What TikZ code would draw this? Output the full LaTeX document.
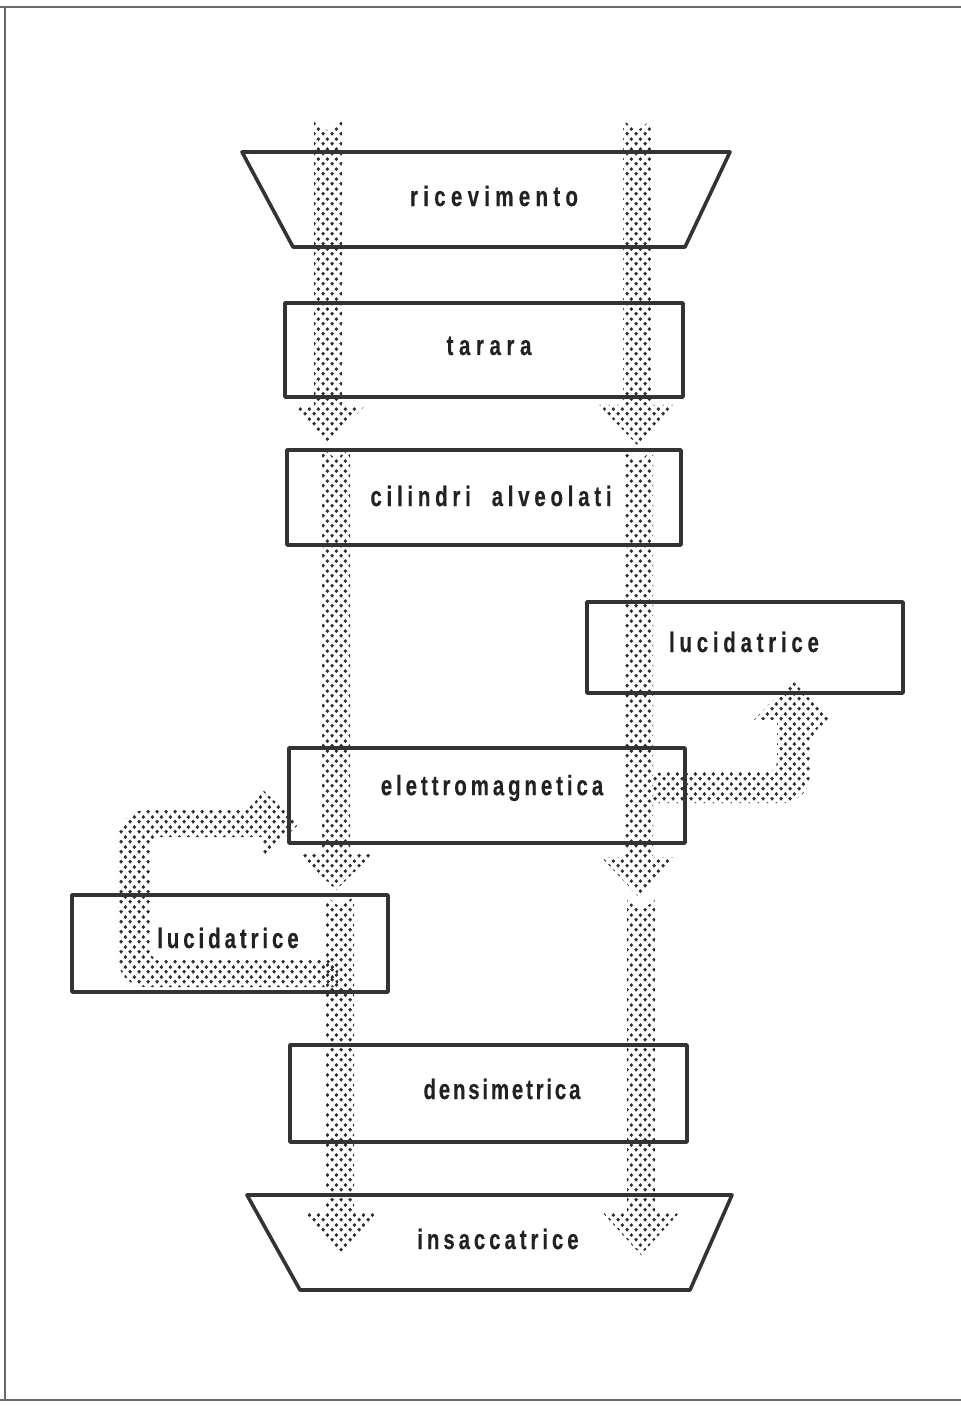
\documentclass[tikz,border=0pt]{standalone}
\usepackage{fontspec}
\newfontfamily\lblfont{Liberation Sans}[FakeStretch=0.73,FakeBold=0.3]
\usetikzlibrary{patterns}
\definecolor{boxgray}{HTML}{333333}
\definecolor{dotgray}{HTML}{2E2E2E}
\definecolor{textgray}{HTML}{222222}
\definecolor{framegray}{HTML}{6A6A6A}
\pgfdeclarepatternformonly{halftone}{\pgfqpoint{0pt}{0pt}}{\pgfqpoint{4.6pt}{4.8pt}}{\pgfqpoint{4.6pt}{4.8pt}}{%
  \pgfpathcircle{\pgfqpoint{1.15pt}{1.2pt}}{1.02pt}%
  \pgfpathcircle{\pgfqpoint{3.45pt}{3.6pt}}{1.02pt}%
  \pgfusepath{fill}%
}
\newcommand\spaced[2]{{\addfontfeature{LetterSpace=#1}#2}}
\tikzset{
  stagebox/.style={draw=boxgray, line width=1.8pt, line join=round, inner sep=0pt},
  lbl/.style={font=\lblfont\bfseries\fontsize{14}{16}\selectfont, text=textgray, inner sep=0pt},
  band/.style={pattern=halftone, pattern color=dotgray},
  framerule/.style={draw=framegray, line width=1pt}
}
% vertical band segment: center x, top y, head base y, apex y, head half width
\newcommand\vband[5]{%
  \fill[band] ({#1-14},#2) -- (#1,{#2+11}) -- ({#1+14},#2) -- ({#1+14},#3) -- ({#1+#5},#3)
    -- (#1,#4) -- ({#1-#5},#3) -- ({#1-14},#3) -- cycle;}
\begin{document}
\begin{tikzpicture}[x=0.5pt,y=-0.5pt]
\fill[white] (0,0) rectangle (961,1406);
\useasboundingbox (0,0) rectangle (961,1406);
% page frame
\draw[framerule] (0,7) -- (961,7);
\draw[framerule] (5,7) -- (5,1400);
\draw[framerule] (0,1400) -- (961,1400);

% main flow bands
\vband{328}{120}{407}{442}{36}
\vband{336}{448}{853}{890}{38}
\vband{340}{896}{1212}{1253}{39}
\vband{637}{120}{405}{445}{38}
\vband{639}{450}{857}{897}{38}
\vband{641}{900}{1212}{1255}{39}

% left loop (lucidatrice -> elettromagnetica)
\fill[band] (338,987) [rounded corners=14] -- (118,987) -- (118,810) -- (263,810)
  [sharp corners] -- (263,790) -- (299,824) -- (263,858) -- (263,837)
  [rounded corners=5] -- (150,837) -- (150,960) -- (338,960) [sharp corners] -- cycle;
% right loop (elettromagnetica -> lucidatrice)
\fill[band] (652,803) [rounded corners=14] -- (810,803) -- (810,720)
  [sharp corners] -- (830,720) -- (792,680) -- (754,720) -- (777,720)
  [rounded corners=5] -- (777,772) -- (652,772) [sharp corners] -- cycle;

% stages
\draw[stagebox] (242,152) -- (730,152) -- (685,247) -- (293,247) -- cycle;
\node[stagebox, minimum width=199pt, minimum height=47pt] (tarara) at (484,350) {};
\node[stagebox, minimum width=197pt, minimum height=47.5pt] (cilin) at (484,497.5) {};
\node[stagebox, minimum width=158pt, minimum height=45.5pt] (lucR) at (745,647.5) {};
\node[stagebox, minimum width=198pt, minimum height=47.5pt] (elettro) at (487,795.5) {};
\node[stagebox, minimum width=158pt, minimum height=48.5pt] (lucL) at (230,943.5) {};
\node[stagebox, minimum width=198.5pt, minimum height=48.5pt] (densi) at (488.5,1093.5) {};
\draw[stagebox] (247,1195) -- (732,1195) -- (690,1290) -- (300,1290) -- cycle;

% labels
\node[lbl] (ricevT) at (494,196) {\spaced{19}{ricevimento}};
\node[lbl] (tararaT) at (489,346) {\spaced{20}{tarara}};
\node[lbl] (cilinT) at (491,496) {\spaced{17}{cilindri\ \ alveolati}};
\node[lbl] (lucRT) at (744,642) {\spaced{17}{lucidatrice}};
\node[lbl] (elettroT) at (492,788) {\spaced{14}{elettromagnetica}};
\node[lbl] (lucLT) at (228,938) {\spaced{14}{lucidatrice}};
\node[lbl] (densiT) at (502,1089) {\spaced{10}{densimetrica}};
\node[lbl] (insaccT) at (498,1239) {\spaced{14}{insaccatrice}};
\end{tikzpicture}
\end{document}
